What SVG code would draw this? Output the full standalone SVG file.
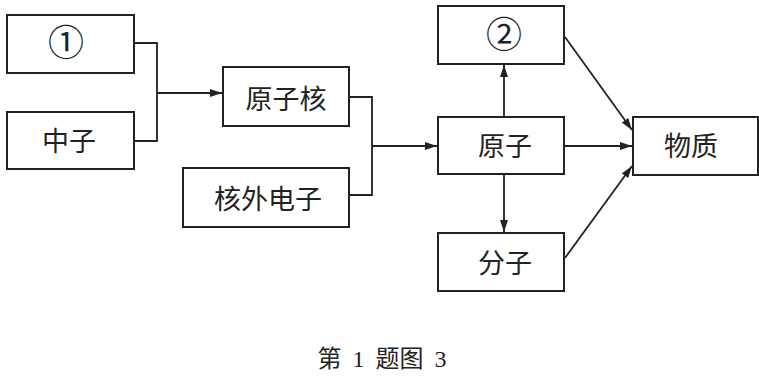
<svg xmlns="http://www.w3.org/2000/svg" width="759" height="377" viewBox="0 0 759 377">
<defs>
<style>
.box{fill:#fff;stroke:#222;stroke-width:2}
.lbl{font-family:"Noto Sans CJK SC","Noto Sans",sans-serif;font-size:27px;fill:#222;text-anchor:middle}
.circ{font-size:36px}
.ln{fill:none;stroke:#222;stroke-width:1.8}
.cap{font-family:"Liberation Serif","Noto Sans CJK SC",serif;font-size:24px;fill:#222;text-anchor:middle;word-spacing:5px}
</style>
<marker id="ah" viewBox="0 0 12 8" refX="12" refY="4" markerWidth="12" markerHeight="8" markerUnits="userSpaceOnUse" orient="auto">
<path d="M0,0 L12,4 L0,8 Z" fill="#222"/>
</marker>
</defs>
<rect width="759" height="377" fill="#fff"/>
<g id="connectors">
<polyline class="ln" points="134,43 157,43 157,141 134,141"/>
<line class="ln" x1="157" y1="93" x2="222" y2="93" marker-end="url(#ah)"/>
<polyline class="ln" points="349,97 372,97 372,195 349,195"/>
<line class="ln" x1="372" y1="146" x2="437" y2="146" marker-end="url(#ah)"/>
<line class="ln" x1="504" y1="117" x2="504" y2="65" marker-end="url(#ah)"/>
<line class="ln" x1="504" y1="174" x2="504" y2="232" marker-end="url(#ah)"/>
<line class="ln" x1="564" y1="146" x2="632" y2="146" marker-end="url(#ah)"/>
<line class="ln" x1="565" y1="37" x2="632" y2="130" marker-end="url(#ah)"/>
<line class="ln" x1="565" y1="258" x2="632" y2="166" marker-end="url(#ah)"/>
</g>
<g id="n1">
<rect class="box" x="7" y="15" width="127" height="58"/>
<text class="lbl circ" x="66" y="56">①</text>
</g>
<g id="zhongzi">
<rect class="box" x="7" y="112" width="127" height="57"/>
<text class="lbl" x="69" y="151">中子</text>
</g>
<g id="yuanzihe">
<rect class="box" x="223" y="67" width="126" height="59"/>
<text class="lbl" x="286" y="109">原子核</text>
</g>
<g id="hewaidianzi">
<rect class="box" x="183" y="168" width="166" height="59"/>
<text class="lbl" x="268" y="209">核外电子</text>
</g>
<g id="n2">
<rect class="box" x="438" y="6" width="126" height="58"/>
<text class="lbl circ" x="504" y="48">②</text>
</g>
<g id="yuanzi">
<rect class="box" x="438" y="117" width="126" height="57"/>
<text class="lbl" x="505" y="156">原子</text>
</g>
<g id="fenzi">
<rect class="box" x="438" y="233" width="126" height="58"/>
<text class="lbl" x="505" y="273">分子</text>
</g>
<g id="wuzhi">
<rect class="box" x="633" y="117" width="125" height="58"/>
<text class="lbl" x="691" y="156">物质</text>
</g>
<text class="cap" x="382" y="367">第 1 题图 3</text>
</svg>
